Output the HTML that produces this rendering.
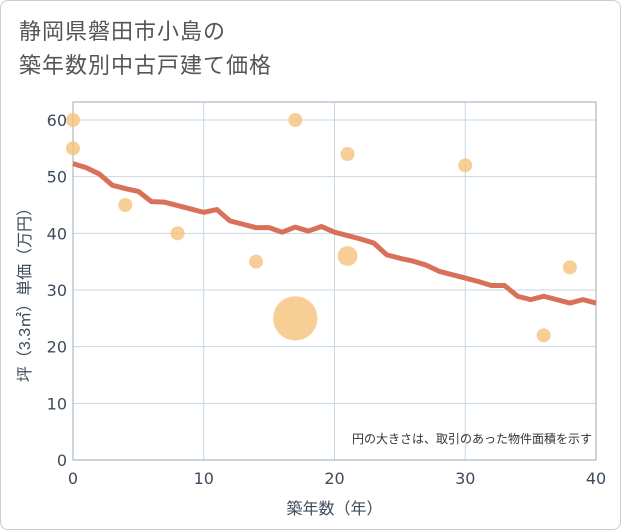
<!DOCTYPE html>
<html><head><meta charset="utf-8"><style>
body{margin:0;background:#fff;font-family:"Liberation Sans","Noto Sans CJK JP",sans-serif}
#wrap{position:relative;width:619px;height:528px;border:1px solid #ccc;border-radius:8px;overflow:hidden}
#title{position:absolute;left:18px;top:14px;font-size:22px;line-height:34px;color:#555;letter-spacing:1px}
</style></head><body>
<div id="wrap">
<div id="title">静岡県磐田市小島の<br>築年数別中古戸建て価格</div>
<svg id="c" width="621" height="530" style="position:absolute;left:-1px;top:-1px"></svg>
</div>
<script>
const xTicks=[0,10,20,30,40];
const yTicks=[0,10,20,30,40,50,60];
const lineYears=[0,1,2,3,4,5,6,7,8,9,10,11,12,13,14,15,16,17,18,19,20,21,22,23,24,25,26,27,28,29,30,31,32,33,34,35,36,37,38,39,40];
const lineValues=[52.3,51.6,50.5,48.5,47.9,47.4,45.6,45.5,44.9,44.3,43.7,44.2,42.2,41.6,41.0,41.0,40.2,41.1,40.4,41.2,40.2,39.6,39.0,38.3,36.2,35.6,35.1,34.4,33.3,32.7,32.1,31.5,30.8,30.8,28.9,28.3,28.9,28.3,27.7,28.3,27.7];
const bubbleX=[0,0,4,8,14,17,17,21,21,30,36,38];
const bubbleY=[60,55,45,40,35,60,25,54,36,52,22,34];
const bubbleSize=[1,1,1,1,1,1,10,1,2,1,1,1];
const NS='http://www.w3.org/2000/svg';
const svg=document.getElementById('c');
const L=73,R=596,T=102,B=460;
const sx=v=>L+(v-0)/40*(R-L);
const sy=v=>B-v/60*(B-120);
const TF='"DejaVu Sans","Liberation Sans",sans-serif';
function mk(t,a,p){const e=document.createElementNS(NS,t);for(const k in a)e.setAttribute(k,a[k]);(p||svg).appendChild(e);return e;}
const grid=mk('g',{});

xTicks.forEach(t=>{mk('line',{x1:sx(t),x2:sx(t),y1:T,y2:B,stroke:'#c8d6e6','stroke-width':1},grid);
 const tx=mk('text',{x:sx(t),y:B+24,'text-anchor':'middle','font-size':16,fill:'#3d4b5c','font-family':TF});tx.textContent=t;
 });
yTicks.forEach(t=>{mk('line',{x1:L,x2:R,y1:sy(t),y2:sy(t),stroke:'#c8d6e6','stroke-width':1},grid);
 const tx=mk('text',{x:L-6,y:sy(t)+6,'text-anchor':'end','font-size':16,fill:'#3d4b5c','font-family':TF});tx.textContent=t;
 });
const fr=mk('rect',{x:L,y:T,width:R-L,height:B-T,fill:'none',stroke:'#9aa8b8','stroke-width':1});

bubbleX.forEach((x,i)=>{const c=mk('circle',{cx:sx(x),cy:sy(bubbleY[i]),r:7*Math.sqrt(bubbleSize[i]),fill:'#f5c27a','fill-opacity':0.8});
 });
const pts=lineYears.map((x,i)=>sx(x)+','+sy(lineValues[i])).join(' ');
const pl=mk('polyline',{points:pts,fill:'none',stroke:'#d9705a','stroke-width':5,'stroke-linejoin':'round'});

const note=mk('text',{x:592,y:443,'text-anchor':'end','font-size':12,fill:'#333'});note.textContent='円の大きさは、取引のあった物件面積を示す';

const xl=mk('text',{x:(L+R)/2,y:514,'text-anchor':'middle','font-size':16,fill:'#3d4b5c'});xl.textContent='築年数（年）';

const yl=mk('text',{x:0,y:0,'text-anchor':'middle','font-size':16,fill:'#3d4b5c',transform:'translate(30,'+((T+B)/2+10)+') rotate(-90)'});yl.textContent='坪（3.3㎡）単価（万円）';

</script>
</body></html>
